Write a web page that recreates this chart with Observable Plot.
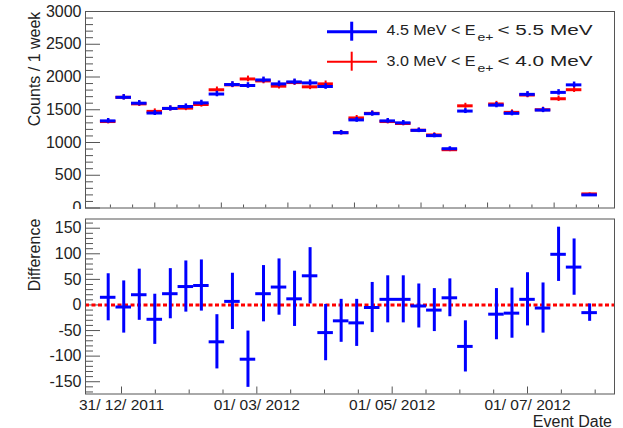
<!DOCTYPE html>
<html>
<head>
<meta charset="utf-8">
<script src="https://cdn.jsdelivr.net/npm/d3@7"></script>
<script src="https://cdn.jsdelivr.net/npm/@observablehq/plot@0.6"></script>
<style>
  html, body { margin: 0; padding: 0; background: #fff; }
  #chart svg { display: block; }
</style>
</head>
<body>
<div id="chart"></div>
<script>
// ---- data ----
const weeks = [
  "2011-12-25","2012-01-01","2012-01-08","2012-01-15","2012-01-22","2012-01-29",
  "2012-02-05","2012-02-12","2012-02-19","2012-02-26","2012-03-04","2012-03-11",
  "2012-03-18","2012-03-25","2012-04-01","2012-04-08","2012-04-15","2012-04-22",
  "2012-04-29","2012-05-06","2012-05-13","2012-05-20","2012-05-27","2012-06-03",
  "2012-06-17","2012-06-24","2012-07-01","2012-07-08","2012-07-15","2012-07-22",
  "2012-07-29"
];
const countsHigh = [1330,1690,1600,1450,1520,1550,1605,1740,1885,1870,1955,1895,
  1925,1910,1855,1150,1345,1440,1330,1300,1185,1105,905,1480,1570,1445,1735,1495,
  1765,1880,200];
const countsLow = [1320,1690,1590,1475,1520,1525,1580,1805,1880,1970,1940,1860,
  1915,1850,1895,1150,1375,1445,1320,1290,1187,1115,890,1560,1588,1460,1725,1500,
  1668,1806,215];
const errHigh = [36,41,40,38,39,39,40,42,43,43,44,44,44,44,43,34,37,38,36,36,34,
  33,30,38,40,38,42,39,42,43,14];
const errLow = [36,41,40,38,39,39,40,42,43,44,44,43,44,43,44,34,37,38,36,36,34,
  33,30,39,40,38,42,39,41,42,15];
const difference = [15,-4,20,-28,22,36,38,-72,7,-106,22,35,12,57,-54,-31,-35,-5,
  11,11,-2,-10,14,-81,-18,-16,11,-6,99,74,-15];
const diffErr = [46,51,50,49,49,50,50,53,55,55,55,55,54,55,55,42,46,49,46,46,43,
  42,37,50,50,49,52,49,53,55,17];

const yTopMajor = [0,500,1000,1500,2000,2500,3000];
const yBotMajor = [-150,-100,-50,0,50,100,150];
const xTopMajor = ["2012-01-15","2012-02-14","2012-03-15","2012-04-14","2012-05-14","2012-06-13","2012-07-13"];
const xTopMinor = ["2011-12-26","2012-01-05","2012-01-25","2012-02-04","2012-02-24","2012-03-05",
  "2012-03-25","2012-04-04","2012-04-24","2012-05-04","2012-05-24","2012-06-03","2012-06-23",
  "2012-07-03","2012-07-23","2012-08-02"];
const xBotMajor = ["2011-12-31T00:00","2012-03-01T00:00","2012-05-01T00:00","2012-07-01T00:00"];
const xBotLabels = ["31/ 12/ 2011","01/ 03/ 2012","01/ 05/ 2012","01/ 07/ 2012"];
const xBotMinor = ["2012-01-15T06:00","2012-01-30T12:00","2012-02-14T18:00","2012-03-16T06:00",
  "2012-03-31T12:00","2012-04-15T18:00","2012-05-16T06:00","2012-05-31T12:00","2012-06-15T18:00",
  "2012-07-16T06:00","2012-07-31T12:00"];
const legendLabels = [["4.5 MeV < E", "e+", "< 5.5 MeV"], ["3.0 MeV < E", "e+", "< 4.0 MeV"]];

// ---- build ----
const utc = s => new Date(s.length <= 10 ? s + "T00:00Z" : s + "Z");
const HALF = 3.5 * 864e5;
const rows = weeks.map((w, i) => ({
  date: utc(w), hi: countsHigh[i], lo: countsLow[i], ehi: errHigh[i], elo: errLow[i],
  diff: difference[i], ediff: diffErr[i]
}));
const BLUE = "#0000ff", RED = "#ff0000", FRAME = "#555", TEXT = "#222";
const FONT = "Liberation Sans, Arial, Helvetica, sans-serif";
const W = 623, ML = 85, MR = 9;
const xDomain = [new Date("2011-12-14T18:30Z"), new Date("2012-08-09T05:00Z")];
const FW = W - ML - MR;

const minorTop = d3.range(0, 3001, 100).filter(v => v % 500 !== 0);
const minorBot = d3.range(-170, 170, 10).filter(v => v % 50 !== 0);

// top panel
const topH = 209, topMT = 11, topMB = 1.5;
const topFH = topH - topMT - topMB;
const topPlot = Plot.plot({
  width: W, height: topH, marginLeft: ML, marginRight: MR, marginTop: topMT, marginBottom: topMB,
  style: {fontFamily: FONT, fontSize: "16px", color: TEXT, background: "transparent", overflow: "hidden"},
  x: {type: "utc", domain: xDomain, axis: null},
  y: {domain: [0, 3000], axis: null},
  marks: [
    Plot.ruleY(yTopMajor, {y: d => d, stroke: FRAME, insetRight: FW - 15}),
    Plot.ruleY(minorTop, {y: d => d, stroke: FRAME, insetRight: FW - 8}),
    Plot.ruleX(xTopMajor.map(utc), {x: d => d, stroke: FRAME, insetTop: topFH - 5}),
    Plot.ruleX(xTopMinor.map(utc), {x: d => d, stroke: FRAME, insetTop: topFH - 3}),
    Plot.axisY({ticks: yTopMajor, tickSize: 0, tickPadding: 4, tickFormat: d => String(d),
      fontSize: 16, fill: TEXT, label: null}),
    Plot.ruleY(rows, {y: "lo", x1: d => new Date(+d.date - HALF), x2: d => new Date(+d.date + HALF), stroke: RED, strokeWidth: 3}),
    Plot.ruleX(rows, {x: "date", y1: d => d.lo - d.elo, y2: d => d.lo + d.elo, stroke: RED, strokeWidth: 2}),
    Plot.ruleY(rows, {y: "hi", x1: d => new Date(+d.date - HALF), x2: d => new Date(+d.date + HALF), stroke: BLUE, strokeWidth: 3}),
    Plot.ruleX(rows, {x: "date", y1: d => d.hi - d.ehi, y2: d => d.hi + d.ehi, stroke: BLUE, strokeWidth: 2.5}),
    Plot.frame({stroke: FRAME})
  ]
});

// bottom panel
const botH = 219, botMT = 9.5, botMB = 34.5;
const botFH = botH - botMT - botMB;
const labelMap = new Map(xBotMajor.map((d, i) => [+utc(d), xBotLabels[i]]));
const botPlot = Plot.plot({
  width: W, height: botH, marginLeft: ML, marginRight: MR, marginTop: botMT, marginBottom: botMB,
  style: {fontFamily: FONT, fontSize: "16px", color: TEXT, background: "transparent"},
  x: {type: "utc", domain: xDomain, axis: null},
  y: {domain: [-174, 168], axis: null},
  marks: [
    Plot.ruleY(yBotMajor, {y: d => d, stroke: FRAME, insetRight: FW - 15}),
    Plot.ruleY(minorBot, {y: d => d, stroke: FRAME, insetRight: FW - 8}),
    Plot.ruleX(xBotMajor.map(utc), {x: d => d, stroke: FRAME, insetTop: botFH - 7}),
    Plot.ruleX(xBotMinor.map(utc), {x: d => d, stroke: FRAME, insetTop: botFH - 4}),
    Plot.axisY({ticks: yBotMajor, tickSize: 0, tickPadding: 4, tickFormat: d => String(d),
      fontSize: 16, fill: TEXT, label: null}),
    Plot.axisX({ticks: xBotMajor.map(utc), tickSize: 0, tickPadding: 4.5,
      tickFormat: d => labelMap.get(+d), fontSize: 15.5, fill: TEXT, label: null}),
    Plot.ruleY([0], {stroke: RED, strokeWidth: 3, strokeDasharray: "4,2.5"}),
    Plot.ruleY(rows, {y: "diff", x1: d => new Date(+d.date - HALF), x2: d => new Date(+d.date + HALF), stroke: BLUE, strokeWidth: 3}),
    Plot.ruleX(rows, {x: "date", y1: d => d.diff - d.ediff, y2: d => d.diff + d.ediff, stroke: BLUE, strokeWidth: 3}),
    Plot.frame({stroke: FRAME})
  ]
});

const chart = document.getElementById("chart");
chart.append(topPlot, botPlot);

// axis titles
const st = d3.select(topPlot);
st.append("text").attr("transform", "translate(40,69) rotate(-90)")
  .attr("text-anchor", "middle").attr("font-size", 16).attr("fill", TEXT).text("Counts / 1 week");
const sb = d3.select(botPlot);
sb.append("text").attr("transform", `translate(40,${255 - topH}) rotate(-90)`)
  .attr("text-anchor", "middle").attr("font-size", 16).attr("fill", TEXT).text("Difference");
sb.append("text").attr("x", 612).attr("y", 426.5 - topH)
  .attr("text-anchor", "end").attr("font-size", 16).attr("fill", TEXT).text("Event Date");

// legend
const legendItems = [
  {color: BLUE, width: 3, y: 31.7, base: 34.5, labels: legendLabels[0]},
  {color: RED, width: 2, y: 61.7, base: 65.5, labels: legendLabels[1]}
];
const lg = st.append("g").attr("text-anchor", "start");
legendItems.forEach(it => {
  lg.append("line").attr("x1", 327).attr("x2", 377).attr("y1", it.y).attr("y2", it.y)
    .attr("stroke", it.color).attr("stroke-width", it.width);
  lg.append("line").attr("x1", 351.7).attr("x2", 351.7).attr("y1", it.y - 10).attr("y2", it.y + 9)
    .attr("stroke", it.color).attr("stroke-width", it.width);
  const g = lg.append("g").attr("fill", TEXT);
  g.append("text").attr("x", 386.5).attr("y", it.base).attr("font-size", 15.5).attr("text-anchor", "start")
    .attr("textLength", 89).attr("lengthAdjust", "spacingAndGlyphs").text(it.labels[0]);
  g.append("text").attr("x", 477.5).attr("y", it.base + 6).attr("font-size", 11.5).attr("text-anchor", "start")
    .attr("textLength", 16).attr("lengthAdjust", "spacingAndGlyphs").text(it.labels[1]);
  g.append("text").attr("x", 497.5).attr("y", it.base).attr("font-size", 15.5).attr("text-anchor", "start")
    .attr("textLength", 95).attr("lengthAdjust", "spacingAndGlyphs").text(it.labels[2]);
});
</script>
</body>
</html>
